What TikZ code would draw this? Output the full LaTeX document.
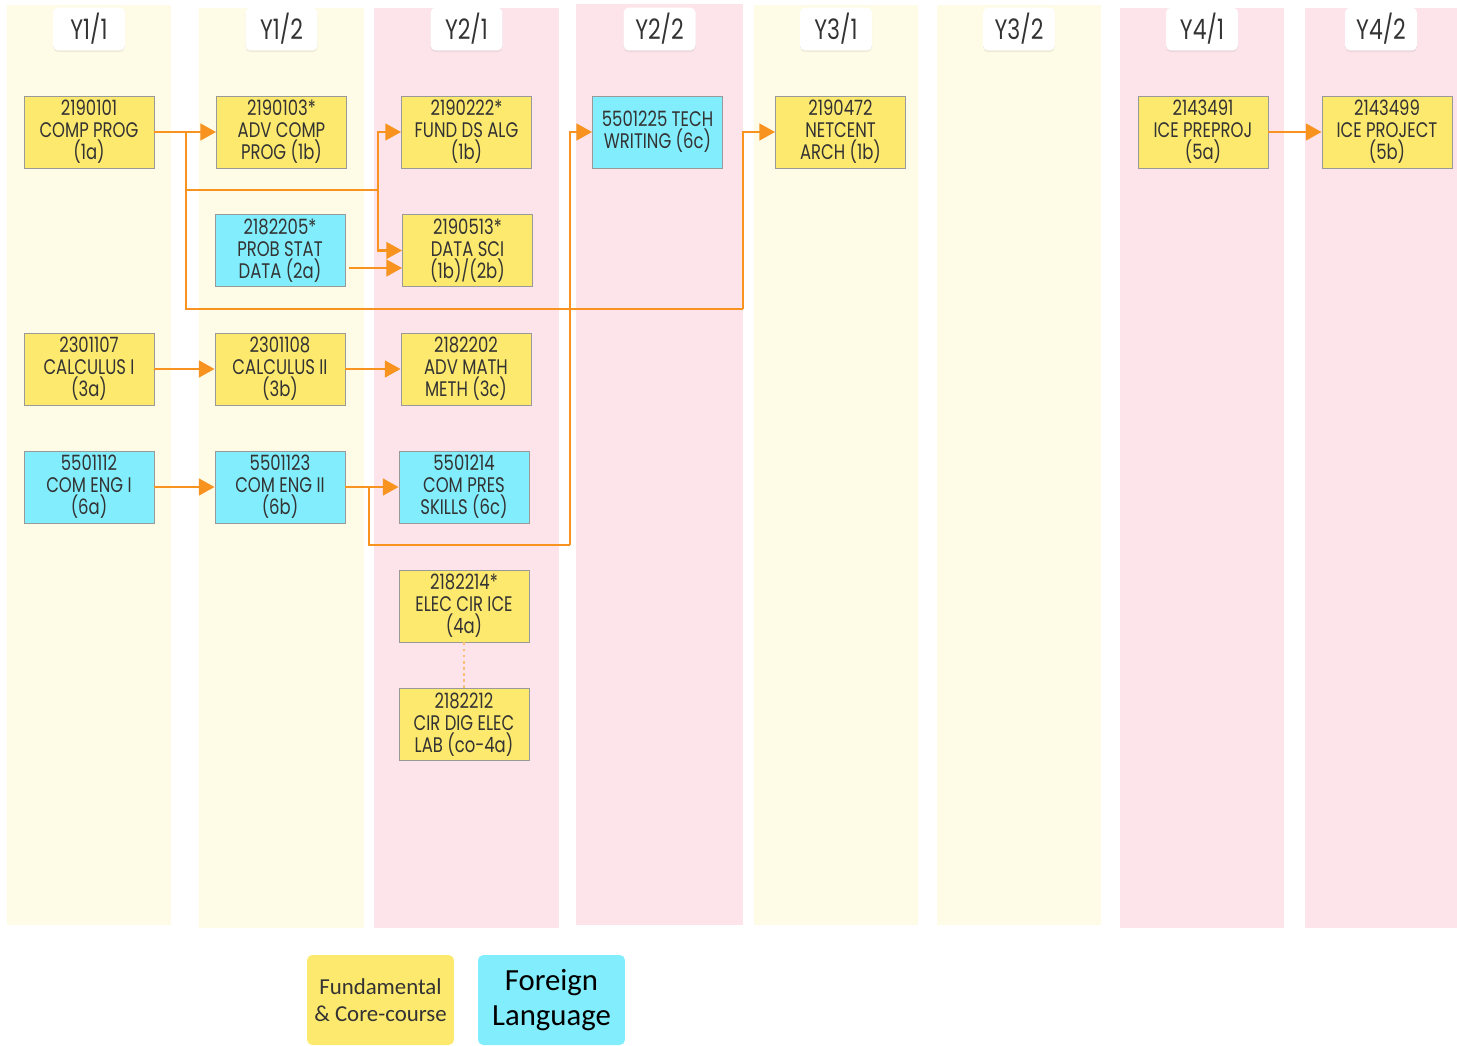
\documentclass[tikz,border=0pt]{standalone}
\usepackage{fontspec}
\newfontfamily\boxfont[FakeStretch=0.78]{Poppins}
\newfontfamily\legfont{Carlito}
\usetikzlibrary{arrows.meta,shadows}
\definecolor{yel}{HTML}{FDE96E}
\definecolor{cyn}{HTML}{82EDFC}
\definecolor{cream}{HTML}{FEFBE6}
\definecolor{pinkc}{HTML}{FCE4EA}
\definecolor{orng}{HTML}{F7931E}
\definecolor{txt}{HTML}{333333}
\begin{document}
\begin{tikzpicture}[
                x=0.02cm, y=-0.02cm,
                course/.style={draw=black!40, line width=0.5pt, minimum width=2.6cm, minimum height=1.44cm,
                    inner sep=0pt, align=center, text=txt, font=\boxfont\fontsize{12}{12.6}\selectfont},
                core/.style={course, fill=yel},
                lang/.style={course, fill=cyn},
                head/.style={fill=white, rounded corners=3pt, minimum width=1.44cm, minimum height=0.84cm,
                    text=txt, font=\boxfont\fontsize{16}{16}\selectfont,
                    drop shadow={opacity=0.12, shadow xshift=0pt, shadow yshift=-1pt}},
                legend/.style={rounded corners=3pt, minimum width=2.94cm, minimum height=1.8cm,
                    align=center, font=\legfont},
                link/.style={orng, line width=1.6pt, -{Triangle[length=9pt, width=9.5pt]}},
                line/.style={orng, line width=1.6pt}
            ]

                \useasboundingbox (0,0) rectangle (1457,1045);

                \foreach \xa/\xb/\ya/\yb/\col/\lbl [count=\i] in {7/171/5/925/cream/{Y1/1}, 199/364/8/928/cream/{Y1/2},
                        374/559/8/928/pinkc/{Y2/1}, 576/743/4/925/pinkc/{Y2/2}, 754/918/5/925/cream/{Y3/1},
                        937/1101/5/925/cream/{Y3/2}, 1120/1284/8/928/pinkc/{Y4/1}, 1305/1457/8/928/pinkc/{Y4/2}} {
                    \fill[\col] (\xa, \ya) rectangle (\xb, \yb);
                    \node[head] (h\i) at ({(\xa+\xb)/2}, 29) {\lbl};
                }

                \node[core] (cp) at (89, 132) {2190101\\COMP PROG\\(1a)};
                \node[core] (acp) at (281.5, 132) {2190103*\\ADV COMP\\PROG (1b)};
                \node[core] (fds) at (466.5, 132) {2190222*\\FUND DS ALG\\(1b)};
                \node[lang] (psd) at (280, 250.5) {2182205*\\PROB STAT\\DATA (2a)};
                \node[core] (dsci) at (467.5, 250.5) {2190513*\\DATA SCI\\(1b)/(2b)};
                \node[lang] (tw) at (657.5, 132) {5501225 TECH\\WRITING (6c)};
                \node[core] (net) at (840.5, 132) {2190472\\NETCENT\\ARCH (1b)};
                \node[core] (pre) at (1203, 132) {2143491\\ICE PREPROJ\\(5a)};
                \node[core] (proj) at (1387, 132) {2143499\\ICE PROJECT\\(5b)};

                \node[core] (c1) at (89, 369) {2301107\\CALCULUS I\\(3a)};
                \node[core] (c2) at (280, 369) {2301108\\CALCULUS II\\(3b)};
                \node[core] (amm) at (466, 369) {2182202\\ADV MATH\\METH (3c)};

                \node[lang] (e1) at (89, 487) {5501112\\COM ENG I\\(6a)};
                \node[lang] (e2) at (280, 487) {5501123\\COM ENG II\\(6b)};
                \node[lang] (pres) at (464, 487) {5501214\\COM PRES\\SKILLS (6c)};

                \node[core] (eci) at (464, 606) {2182214*\\ELEC CIR ICE\\(4a)};
                \node[core] (lab) at (464, 724.5) {2182212\\CIR DIG ELEC\\LAB (co-4a)};

                \coordinate (s1) at (186, 132);
                \coordinate (j1) at (378, 190);
                \coordinate (j2) at (743, 309);
                \coordinate (s2) at (369, 487);
                \coordinate (j3) at (570, 545);

                \draw[link] (cp) -- (acp);
                \draw[line] (s1) |- (j1);
                \draw[link] (j1) |- (fds);
                \draw[link] (j1) |- (dsci);
                \draw[line] (s1) |- (j2);
                \draw[link] (j2) |- (net);
                \draw[link] ([yshift=-0.35cm]psd.east) ++(0.08cm,0) -- ([yshift=-0.35cm]dsci.west);
                \draw[link] (c1) -- (c2);
                \draw[link] (c2) -- (amm);
                \draw[link] (e1) -- (e2);
                \draw[link] (e2) -- (pres);
                \draw[line] (s2) |- (j3);
                \draw[link] (j3) |- (tw);
                \draw[link] (pre) -- (proj);
                \draw[orng!60, line width=1.5pt, dotted] (eci) -- (lab);

                \node[legend, fill=yel, font=\legfont\fontsize{13}{15}\selectfont, text=black!80] (fund) at (380.5, 1000) {Fundamental\\\& Core-course};
                \node[legend, fill=cyn, font=\legfont\fontsize{17.5}{19.5}\selectfont, text=black] (forl) at (551.5, 1000) {Foreign\\Language};
            \end{tikzpicture}
\end{document}
